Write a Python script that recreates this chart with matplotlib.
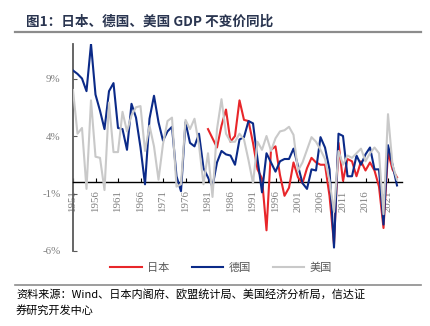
import matplotlib
matplotlib.use("Agg")
import matplotlib.pyplot as plt
import numpy as np

plt.rcParams['font.family'] = ['Noto Sans CJK SC', 'DejaVu Sans']

years = list(range(1951, 2024))

germany = [9.7, 9.4, 9.0, 7.9, 12.0, 7.6, 6.2, 4.6, 7.9, 8.6,
           4.7, 4.6, 2.8, 6.8, 5.6, 3.0, -0.2, 5.5, 7.5, 5.2,
           3.6, 4.4, 4.8, 0.5, -0.8, 5.2, 3.4, 3.1, 4.2, 1.2,
           0.4, -0.4, 1.7, 2.7, 2.4, 2.3, 1.5, 3.7, 3.9, 5.3,
           5.1, 2.0, -0.9, 2.5, 1.7, 0.9, 1.8, 2.0, 2.0, 2.9,
           1.4, -0.1, -0.6, 1.1, 1.0, 3.9, 3.0, 1.1, -5.7, 4.2,
           4.0, 0.5, 0.5, 2.3, 1.5, 2.4, 3.0, 1.1, 1.1, -3.7,
           3.2, 1.5, -0.3]

japan_years = list(range(1981, 2024))
japan = [4.6, 3.8, 3.0, 4.9, 6.3, 3.5, 4.0, 7.1, 5.4, 5.3,
         3.4, 1.1, 0.3, -4.2, 2.8, 3.1, 0.6, -1.2, -0.5, 1.7,
         0.4, -0.1, 1.2, 2.1, 1.7, 1.5, 1.5, -1.2, -5.4, 3.4,
         0.1, 2.0, 1.8, 0.5, 1.8, 1.0, 1.7, 1.0, -0.4, -4.0,
         2.6, 1.1, 0.4]

usa = [8.0, 4.2, 4.7, -0.6, 7.1, 2.2, 2.1, -0.7, 6.9, 2.6,
       2.6, 6.1, 4.4, 5.8, 6.5, 6.6, 2.7, 4.9, 3.1, 0.2,
       3.3, 5.3, 5.6, -0.4, -0.2, 5.4, 4.6, 5.5, 3.2, -0.2,
       2.5, -1.3, 4.6, 7.2, 4.2, 3.5, 3.5, 4.2, 3.7, 1.9,
       -0.1, 3.5, 2.8, 4.0, 2.7, 3.8, 4.4, 4.5, 4.8, 4.1,
       1.0, 1.7, 2.8, 3.9, 3.5, 2.8, 2.0, 0.1, -2.6, 2.7,
       1.5, 2.3, 2.1, 2.5, 2.9, 1.8, 2.5, 3.0, 2.5, -2.8,
       5.9, 1.5, 0.2]

yticks = [-6, -1, 4, 9]
xticks = list(range(1951, 2022, 5))

title = "图1：日本、德国、美国 GDP 不变价同比"
source1 = "资料来源：Wind、日本内阁府、欧盟统计局、美国经济分析局，信达证"
source2 = "券研究开发中心"

W, H = 431, 326
fig = plt.figure(figsize=(W / 100, H / 100), dpi=100)

ax = fig.add_axes([73 / W, 1 - 251 / H, (401.5 - 73) / W, (251 - 44) / H])

red = '#e8262a'
navy = '#0b2a88'
gray = '#c9c9c9'

ax.plot(japan_years, japan, color=red, lw=1.5, label='日本', zorder=3)
ax.plot(years, germany, color=navy, lw=1.5, label='德国', zorder=4)
ax.plot(years, usa, color=gray, lw=1.5, label='美国', zorder=5)

ax.set_xlim(1951, 2024)
ax.set_ylim(-6, 12)

for s in ['top', 'right']:
    ax.spines[s].set_visible(False)
ax.spines['left'].set_color('#595959')
ax.spines['left'].set_linewidth(1.3)
ax.spines['bottom'].set_position(('data', 0))
ax.spines['bottom'].set_color('black')
ax.spines['bottom'].set_linewidth(1.0)

ax.set_yticks(yticks)
ax.set_yticklabels([f"{v}%" for v in yticks], family='Liberation Serif',
                   fontsize=7.8, color='#7f7f7f')
ax.set_xticks(xticks)
ax.set_xticklabels([str(v) for v in xticks], family='Liberation Serif',
                   fontsize=7.8, color='#7f7f7f', rotation=90, va='top')
ax.tick_params(axis='y', direction='in', length=3, pad=9, color='#595959')
ax.tick_params(axis='x', direction='in', length=3, pad=6, color='black')

leg = fig.legend(loc='center', bbox_to_anchor=(221 / W, 1 - 268 / H), ncol=3,
                 frameon=False, fontsize=8, handlelength=2.8, columnspacing=2.0,
                 handletextpad=0.5)
for t in leg.get_texts():
    t.set_color('#595959')

fig.text(26 / W, 1 - 21.5 / H, title, fontsize=9.8, fontweight='bold',
         color='#2a3550', va='center', ha='left')
fig.add_artist(plt.Line2D([15 / W, 421 / W], [1 - 32.3 / H] * 2,
                          color='#8c8c8c', lw=1.6))
fig.add_artist(plt.Line2D([15 / W, 421 / W], [1 - 285 / H] * 2,
                          color='#8c8c8c', lw=1.2))
fig.text(16 / W, 1 - 294.5 / H, source1, fontsize=8, color='black',
         va='center', ha='left')
fig.text(16 / W, 1 - 310.5 / H, source2, fontsize=8, color='black',
         va='center', ha='left')

fig.savefig('out.png', dpi=100)
